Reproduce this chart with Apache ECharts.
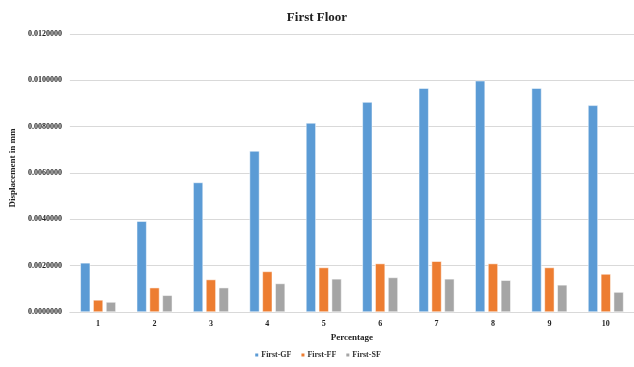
<!DOCTYPE html>
<html><head><meta charset="utf-8">
<script src="https://cdn.jsdelivr.net/npm/echarts@6/dist/echarts.min.js"></script>
<style>html,body{margin:0;padding:0;background:#fff}#c{width:634px;height:367px}</style>
</head><body><div id="c"></div>
<script>
const categories = ['1','2','3','4','5','6','7','8','9','10'];
const firstGF = [0.00212,0.00392,0.00559,0.00695,0.00816,0.00906,0.00966,0.00998,0.00966,0.00892];
const firstFF = [0.00052,0.00105,0.00140,0.00175,0.00192,0.00209,0.00219,0.00209,0.00192,0.00164];
const firstSF = [0.00043,0.00072,0.00105,0.00123,0.00143,0.00149,0.00143,0.00137,0.00117,0.00086];
const seriesNames = ['First-GF','First-FF','First-SF'];
const colors = ['#5B9BD5','#ED7D31','#A5A5A5'];
const font = 'Liberation Serif';
const chart = echarts.init(document.getElementById('c'), null, {renderer:'canvas'});
const mk = (name, data, i) => ({
  name, type:'bar', data, barGap:'30%', barCategoryGap:'37%',
  itemStyle:{color:colors[i], borderColor:'#fff', borderWidth:0.5}
});
chart.setOption({
  animation:false,
  title:{text:'First Floor', left:'center', top:6, textStyle:{fontFamily:font, fontWeight:'bold', fontSize:13, color:'#222'}},
  grid:{left:62, right:0, top:34, bottom:55},
  legend:{bottom:3, left:'center', itemWidth:5, itemHeight:5, itemGap:8, icon:'rect',
    textStyle:{fontFamily:font, fontWeight:'bold', fontSize:8, color:'#333', padding:[0,0,0,-3]}},
  xAxis:{type:'category', data:categories, name:'Percentage', nameLocation:'middle', nameGap:20,
    nameTextStyle:{fontFamily:font, fontWeight:'bold', fontSize:9, color:'#222'},
    axisLine:{lineStyle:{color:'#d9d9d9'}}, axisTick:{show:false},
    axisLabel:{fontFamily:font, fontWeight:'bold', fontSize:8, color:'#222', margin:8}},
  yAxis:{type:'value', min:0, max:0.012, interval:0.002, name:'Displacement in mm', nameLocation:'middle', nameGap:50,
    nameTextStyle:{fontFamily:font, fontWeight:'bold', fontSize:9, color:'#222', padding:[0,0,0,10]},
    axisLine:{show:false}, axisTick:{show:false},
    splitLine:{lineStyle:{color:'#d9d9d9'}},
    axisLabel:{fontFamily:font, fontWeight:'bold', fontSize:8, color:'#222', margin:8, formatter:v=>v.toFixed(7)}},
  series:[mk(seriesNames[0],firstGF,0), mk(seriesNames[1],firstFF,1), mk(seriesNames[2],firstSF,2)]
});
</script></body></html>
